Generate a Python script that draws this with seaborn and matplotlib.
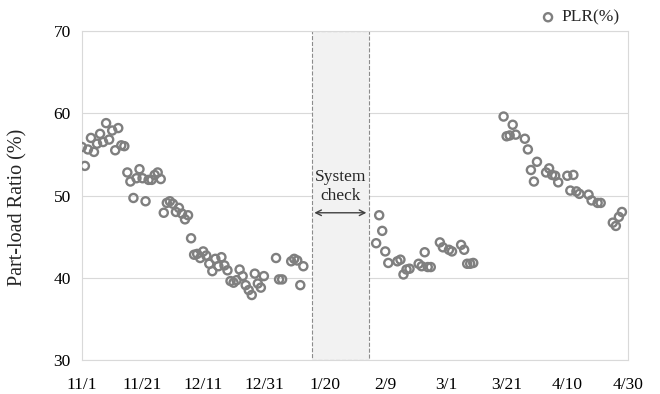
import matplotlib
matplotlib.use('Agg')
import matplotlib.pyplot as plt
import seaborn as sns

# days counted from 11/1
days = [0, 1, 2, 3, 4, 5, 6, 7, 8, 9, 10, 11, 12, 13, 14,
        15, 16, 17, 18, 19, 20, 21, 22, 23, 24, 25, 26, 27, 28, 29,
        30, 31, 32, 33, 34, 35, 36, 37, 38, 39, 40, 41, 42, 43, 44,
        45, 46, 47, 48, 49, 50, 51, 52, 53, 54, 55, 56, 57, 58, 59,
        60, 64, 65, 66, 69, 70, 71, 72, 73,
        97, 98, 99, 100, 101, 104, 105, 106, 107, 108, 111, 112, 113, 114, 115,
        118, 119, 121, 122, 125, 126, 127, 128, 129,
        139, 140, 141, 142, 143, 146, 147, 148, 149, 150, 153, 154, 155, 156, 157,
        160, 161, 162, 163, 164, 167, 168, 170, 171, 175, 176, 177, 178]
plr = [55.9, 53.6, 55.6, 57.0, 55.3, 56.3, 57.5, 56.5, 58.8, 56.8, 57.9, 55.5, 58.2, 56.1, 56.0,
       52.8, 51.7, 49.7, 52.1, 53.2, 52.1, 49.3, 51.9, 51.9, 52.5, 52.8, 52.0, 47.9, 49.1, 49.3,
       49.0, 48.0, 48.5, 47.8, 47.1, 47.6, 44.8, 42.8, 42.9, 42.4, 43.2, 42.7, 41.7, 40.8, 42.3,
       41.4, 42.5, 41.5, 40.9, 39.6, 39.4, 39.7, 41.0, 40.2, 39.1, 38.5, 37.9, 40.5, 39.3, 38.8,
       40.2, 42.4, 39.8, 39.8, 42.0, 42.3, 42.1, 39.1, 41.4,
       44.2, 47.6, 45.7, 43.2, 41.8, 42.0, 42.2, 40.4, 41.0, 41.1, 41.7, 41.4, 43.1, 41.3, 41.3,
       44.3, 43.7, 43.4, 43.2, 44.0, 43.4, 41.7, 41.7, 41.8,
       59.6, 57.2, 57.3, 58.6, 57.4, 56.9, 55.6, 53.1, 51.7, 54.1, 52.8, 53.3, 52.5, 52.4, 51.6,
       52.4, 50.6, 52.5, 50.5, 50.2, 50.1, 49.4, 49.1, 49.1, 46.7, 46.3, 47.4, 48.0]

tick_days = [0, 20, 40, 60, 80, 100, 120, 140, 160, 180]
tick_labels = ['11/1', '11/21', '12/11', '12/31', '1/20', '2/9', '3/1', '3/21', '4/10', '4/30']

# system check period
check_start = 75.7
check_end = 94.7

sns.set_style('white')
plt.rcParams['font.family'] = ['Liberation Serif', 'DejaVu Serif']

fig = plt.figure(figsize=(6.6, 3.94), dpi=100)
ax = fig.add_axes([0.124, 0.0863, 0.8275, 0.835])

ax.axvspan(check_start, check_end, facecolor='#f2f2f2', edgecolor='#8c8c8c',
           linestyle='--', linewidth=0.8, zorder=1)
ax.annotate('', xy=(check_start, 47.9), xytext=(check_end, 47.9),
            arrowprops=dict(arrowstyle='<->', color='#404040', lw=1), zorder=3)
ax.text((check_start + check_end) / 2, 51.1, 'System\ncheck', ha='center', va='center',
        fontsize=12.5, linespacing=1.2, zorder=3)

sns.scatterplot(x=days, y=plr, ax=ax, marker='o', s=34, facecolor='none',
                edgecolor='#7f7f7f', linewidth=1.7, label='PLR(%)', zorder=4)

ax.set_xlim(0, 180)
ax.set_ylim(30, 70)
ax.set_xticks(tick_days)
ax.set_xticklabels(tick_labels)
ax.set_yticks([30, 40, 50, 60, 70])
ax.tick_params(axis='both', length=0, labelsize=12.5, colors='black')
ax.tick_params(axis='x', pad=12)
ax.tick_params(axis='y', pad=8)
ax.yaxis.grid(True, color='#d9d9d9', linewidth=0.8)
ax.set_axisbelow(True)
for s in ax.spines.values():
    s.set_color('#d9d9d9')
    s.set_linewidth(0.8)
ax.set_ylabel('Part-load Ratio (%)', fontsize=14.5)
ax.yaxis.set_label_coords(-0.099, 0.465)

ax.legend(loc='lower right', bbox_to_anchor=(0.995, 1.0), frameon=False,
          fontsize=12.5, handlelength=1.0, handletextpad=0.3,
          borderaxespad=0.1, borderpad=0.2)

fig.savefig('out.png', dpi=100)
